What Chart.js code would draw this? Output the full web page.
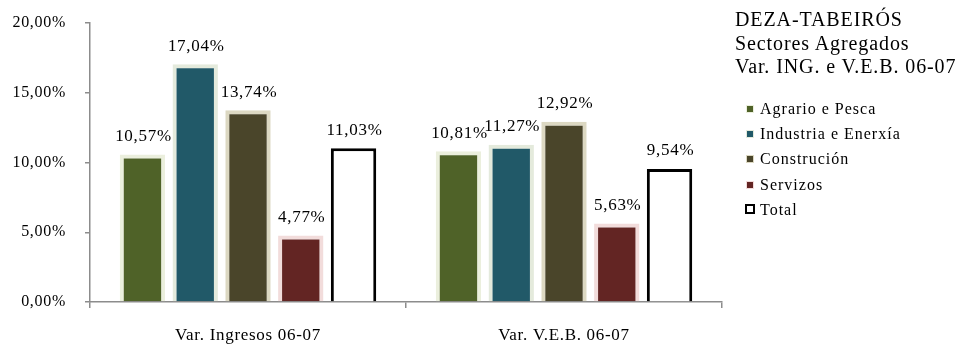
<!DOCTYPE html>
<html>
<head>
<meta charset="utf-8">
<script src="https://cdn.jsdelivr.net/npm/chart.js@4/dist/chart.umd.min.js"></script>
<style>
  html, body { margin: 0; padding: 0; background: #ffffff; }
  #wrap { position: relative; width: 965px; height: 344px; overflow: hidden; }
  #c { position: absolute; left: 0; top: 0; }
  #legend { position: absolute; left: 735px; top: 8px; font-family: "Liberation Serif", "Times New Roman", serif; color: #000; }
  #legend .t { font-size: 20px; line-height: 23.5px; white-space: nowrap; letter-spacing: 0.9px; }
  #legend ul { list-style: none; margin: 0; padding: 0; position: absolute; left: 11px; top: 88px; }
  #legend li { position: relative; height: 25.2px; line-height: 25.2px; font-size: 16px; white-space: nowrap; padding-left: 14px; letter-spacing: 1px; }
  #legend li span { position: absolute; left: 0; top: 9px; width: 6px; height: 6px; box-sizing: content-box; }
</style>
</head>
<body>
<div id="wrap">
  <canvas id="c" width="965" height="344"></canvas>
  <div id="legend"></div>
</div>
<script>
// ---- Data ----
const categories = ["Var. Ingresos 06-07", "Var. V.E.B. 06-07"];
const seriesNames = ["Agrario e Pesca", "Industria e Enerxía", "Construción", "Servizos", "Total"];
const agrario = [10.57, 10.81];
const industria = [17.04, 11.27];
const construcion = [13.74, 12.92];
const servizos = [4.77, 5.63];
const total = [11.03, 9.54];
const yTicks = [0, 5, 10, 15, 20];
const titleLines = ["DEZA-TABEIRÓS", "Sectores Agregados", "Var. ING. e V.E.B. 06-07"];

// ---- Styles ----
const fills = ["#4f6228", "#215968", "#4a452a", "#632523", "#ffffff"];
const borders = ["#ebefdd", "#e4eadc", "#dcd8c2", "#f2dcdb", "#000000"];
const borderWidths = [4, 4, 4, 4, 3];
const seriesValues = [agrario, industria, construcion, servizos, total];

const fmt = v => v.toFixed(2).replace('.', ',') + '%';
const SERIF = '"Liberation Serif", "Times New Roman", serif';
const LS = '0.7px';

const spacingPlugin = {
  id: 'spacing',
  beforeUpdate(chart) { try { chart.ctx.letterSpacing = LS; } catch (e) {} },
  beforeDraw(chart) { try { chart.ctx.letterSpacing = LS; } catch (e) {} }
};

const valueLabels = {
  id: 'valueLabels',
  afterDatasetsDraw(chart) {
    const ctx = chart.ctx;
    ctx.save();
    try { ctx.letterSpacing = LS; } catch (e) {}
    ctx.font = '17px ' + SERIF;
    ctx.fillStyle = '#000';
    ctx.textAlign = 'center';
    ctx.textBaseline = 'middle';
    chart.data.datasets.forEach((ds, i) => {
      const meta = chart.getDatasetMeta(i);
      meta.data.forEach((bar, j) => {
        ctx.fillText(fmt(ds.data[j]), bar.x + 1, bar.y - 18);
      });
    });
    ctx.restore();
  }
};

const chart = new Chart(document.getElementById('c'), {
  type: 'bar',
  data: {
    labels: categories,
    datasets: seriesNames.map((name, i) => ({
      label: name,
      data: seriesValues[i],
      backgroundColor: fills[i],
      borderColor: borders[i],
      borderWidth: borderWidths[i],
      borderSkipped: 'bottom',
      categoryPercentage: 0.835,
      barPercentage: 0.86
    }))
  },
  options: {
    responsive: false,
    animation: false,
    devicePixelRatio: 1,
    layout: { autoPadding: false, padding: { top: 23, right: 243, bottom: 0, left: 0 } },
    plugins: {
      legend: { display: false },
      tooltip: { enabled: false },
      title: { display: false }
    },
    scales: {
      x: {
        offset: true,
        grid: { display: true, drawOnChartArea: false, offset: true, tickLength: 6, color: '#8c8c8c', lineWidth: 1.5 },
        border: { color: '#8c8c8c', width: 1.5 },
        ticks: { color: '#000', font: { family: SERIF, size: 17 }, padding: 17, maxRotation: 0 },
        afterFit: s => { s.height = 42; s.paddingLeft = 0; s.paddingRight = 0; }
      },
      y: {
        min: 0, max: 20,
        afterBuildTicks: s => { s.ticks = yTicks.map(v => ({ value: v })); },
        grid: { display: true, drawOnChartArea: false, tickLength: 5, color: '#8c8c8c', lineWidth: 1.5 },
        border: { color: '#8c8c8c', width: 1.5 },
        ticks: { color: '#000', font: { family: SERIF, size: 16 }, padding: 19, callback: v => fmt(v) },
        afterFit: s => { s.width = 90; s.paddingTop = 0; s.paddingBottom = 0; }
      }
    }
  },
  plugins: [spacingPlugin, valueLabels]
});

// ---- Legend (HTML text) ----
const lg = document.getElementById('legend');
titleLines.forEach(t => {
  const d = document.createElement('div');
  d.className = 't';
  d.textContent = t;
  lg.appendChild(d);
});
const ul = document.createElement('ul');
seriesNames.forEach((name, i) => {
  const li = document.createElement('li');
  const sw = document.createElement('span');
  if (i === 4) {
    sw.style.border = '2px solid #000';
    sw.style.background = '#fff';
    sw.style.width = '6px';
    sw.style.height = '6px';
    sw.style.left = '-1px';
    sw.style.top = '7px';
  } else {
    sw.style.background = fills[i];
    sw.style.border = '1px solid ' + borders[i];
  }
  li.appendChild(sw);
  li.appendChild(document.createTextNode(name));
  ul.appendChild(li);
});
lg.appendChild(ul);
</script>
</body>
</html>
